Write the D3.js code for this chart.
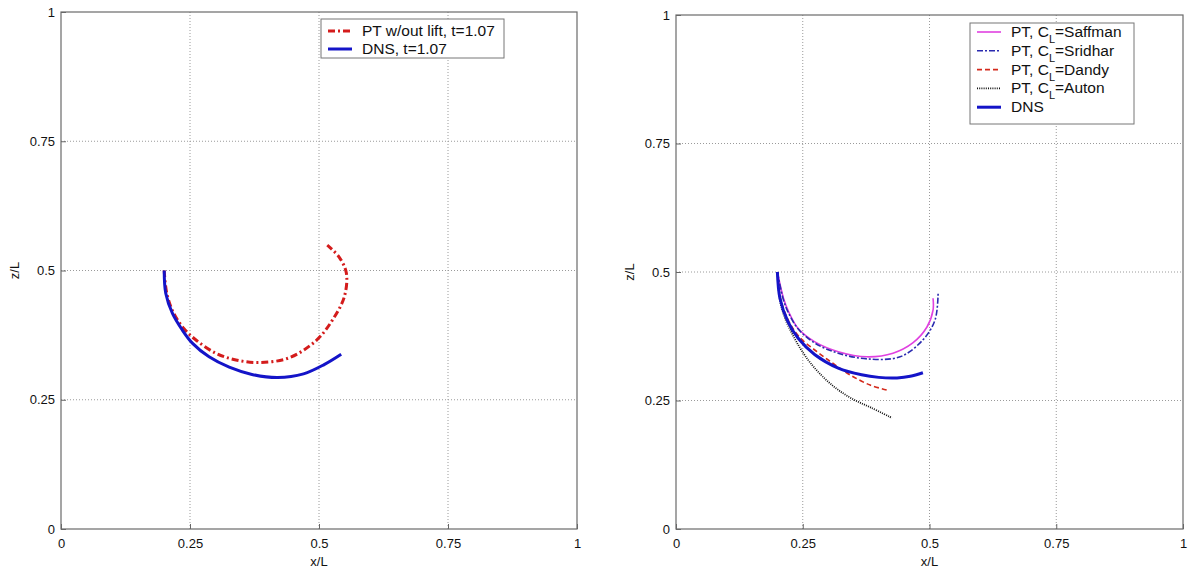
<!DOCTYPE html>
<html>
<head>
<meta charset="utf-8">
<script src="https://cdn.jsdelivr.net/npm/d3@7"></script>
<style>
  body { margin: 0; background: #fff; }
  text { font-family: "Liberation Sans", Arial, sans-serif; fill: #111; }
</style>
</head>
<body>
<script>

var ticks = [0, 0.25, 0.5, 0.75, 1];
var tickLabels = ["0", "0.25", "0.5", "0.75", "1"];

// left panel: trajectories at t=1.07
var ptNoLift = [[0.2,0.5],[0.205,0.456],[0.218,0.418],[0.238,0.388],[0.261,0.366],[0.30,0.34],[0.339,0.327],[0.384,0.322],[0.442,0.331],[0.495,0.365],[0.526,0.404],[0.549,0.449],[0.553,0.495],[0.539,0.526],[0.516,0.549]];
var dnsLeft = [[0.2,0.5],[0.203,0.456],[0.216,0.417],[0.235,0.385],[0.255,0.359],[0.287,0.333],[0.326,0.313],[0.37,0.299],[0.42,0.293],[0.47,0.300],[0.51,0.318],[0.543,0.338]];

// right panel: lift models
var saffman = [[0.2,0.5],[0.212,0.449],[0.222,0.423],[0.241,0.39],[0.274,0.364],[0.32,0.345],[0.377,0.335],[0.428,0.342],[0.467,0.362],[0.495,0.393],[0.507,0.426],[0.507,0.449]];
var sridhar = [[0.2,0.5],[0.211,0.449],[0.222,0.42],[0.242,0.388],[0.275,0.361],[0.32,0.342],[0.377,0.331],[0.442,0.335],[0.487,0.368],[0.511,0.407],[0.517,0.459]];
var dandy = [[0.2,0.5],[0.206,0.449],[0.222,0.405],[0.243,0.374],[0.278,0.345],[0.31,0.322],[0.343,0.30],[0.383,0.28],[0.418,0.27]];
var auton = [[0.2,0.5],[0.205,0.445],[0.215,0.41],[0.229,0.38],[0.246,0.35],[0.266,0.322],[0.29,0.296],[0.318,0.272],[0.35,0.252],[0.385,0.236],[0.426,0.216]];
var dnsRight = [[0.2,0.5],[0.205,0.449],[0.221,0.403],[0.241,0.371],[0.274,0.339],[0.32,0.313],[0.366,0.30],[0.40,0.295],[0.436,0.294],[0.462,0.297],[0.487,0.304]];

var leftSeries = [
  { name: "PT w/out lift, t=1.07", data: ptNoLift, color: "#d41c1c", width: 3, dash: "7,3,2,3" },
  { name: "DNS, t=1.07", data: dnsLeft, color: "#1414c8", width: 3, dash: null }
];
var rightSeries = [
  { name: "Saffman", data: saffman, color: "#e040e0", width: 1.6, dash: null },
  { name: "Sridhar", data: sridhar, color: "#2a2ab0", width: 1.6, dash: "6,2,2,2" },
  { name: "Dandy", data: dandy, color: "#d42a1c", width: 1.6, dash: "5,3" },
  { name: "Auton", data: auton, color: "#111", width: 1.8, dash: "1,1.2" },
  { name: "DNS", data: dnsRight, color: "#1414c8", width: 3, dash: null }
];

var svg = d3.select("body").append("svg")
  .attr("width", 1189)
  .attr("height", 571);

var drawPanel = function(box, series, legend){
  var x = d3.scaleLinear().domain([0, 1]).range([box.left, box.right]);
  var y = d3.scaleLinear().domain([0, 1]).range([box.bottom, box.top]);
  var g = svg.append("g");

  // grid
  ticks.slice(1, 4).forEach(function(t){
    g.append("line").attr("x1", x(t)).attr("x2", x(t)).attr("y1", y(0)).attr("y2", y(1))
      .attr("stroke", "#9a9a9a").attr("stroke-dasharray", "1,2");
    g.append("line").attr("x1", x(0)).attr("x2", x(1)).attr("y1", y(t)).attr("y2", y(t))
      .attr("stroke", "#9a9a9a").attr("stroke-dasharray", "1,2");
  });

  var xAxis = d3.axisBottom(x).tickValues(ticks).tickSize(-5).tickPadding(10)
    .tickFormat(function(d, i){ return tickLabels[i]; });
  var yAxis = d3.axisLeft(y).tickValues(ticks).tickSize(-5).tickPadding(6)
    .tickFormat(function(d, i){ return tickLabels[i]; });

  g.append("g").attr("transform", "translate(0," + box.bottom + ")").call(xAxis)
    .call(function(a){ a.select(".domain").remove(); })
    .selectAll("text").style("font-size", "13px").attr("font-family", "Liberation Sans, Arial, sans-serif");
  g.append("g").attr("transform", "translate(" + box.left + ",0)").call(yAxis)
    .call(function(a){ a.select(".domain").remove(); })
    .selectAll("text").style("font-size", "13px").attr("font-family", "Liberation Sans, Arial, sans-serif");
  g.selectAll(".tick line").attr("stroke", "#666");

  g.append("rect").attr("x", box.left).attr("y", box.top)
    .attr("width", box.right - box.left).attr("height", box.bottom - box.top)
    .attr("fill", "none").attr("stroke", "#6a6a6a").attr("stroke-width", 1.2);

  g.append("text").attr("x", (box.left + box.right) / 2).attr("y", box.bottom + 37)
    .attr("text-anchor", "middle").style("font-size", "13px").text("x/L");
  g.append("text")
    .attr("transform", "translate(" + (box.left - 42) + "," + ((box.top + box.bottom) / 2) + ") rotate(-90)")
    .attr("text-anchor", "middle").style("font-size", "13px").text("z/L");

  var line = d3.line()
    .x(function(d){ return x(d[0]); })
    .y(function(d){ return y(d[1]); })
    .curve(d3.curveCatmullRom);

  series.forEach(function(s){
    g.append("path").attr("d", line(s.data))
      .attr("fill", "none").attr("stroke", s.color).attr("stroke-width", s.width)
      .attr("stroke-dasharray", s.dash);
  });

  // legend
  var lg = g.append("g");
  lg.append("rect").attr("x", legend.x).attr("y", legend.y)
    .attr("width", legend.w).attr("height", legend.h)
    .attr("fill", "#fff").attr("stroke", "#777");
  series.forEach(function(s, i){
    var cy = legend.y + legend.first + i * legend.step;
    lg.append("line").attr("x1", legend.x + 7).attr("x2", legend.x + 31)
      .attr("y1", cy).attr("y2", cy)
      .attr("stroke", s.color).attr("stroke-width", s.width)
      .attr("stroke-dasharray", s.dash);
    var t = lg.append("text").attr("x", legend.x + 41).attr("y", cy + 5)
      .style("font-size", "15.5px");
    if (legend.cl && s.name !== "DNS") {
      t.append("tspan").text("PT, C");
      t.append("tspan").attr("dy", 6).style("font-size", "11px").text("L");
      t.append("tspan").attr("dy", -6).text("=" + s.name);
    } else {
      t.text(s.name);
    }
  });
};

drawPanel({ left: 61, right: 577, top: 12, bottom: 529 }, leftSeries,
  { x: 321, y: 19, w: 183, h: 39, first: 12, step: 18, cl: false });
drawPanel({ left: 676, right: 1183, top: 15, bottom: 529 }, rightSeries,
  { x: 970, y: 23, w: 164, h: 101, first: 9, step: 18.8, cl: true });

</script>
</body>
</html>
